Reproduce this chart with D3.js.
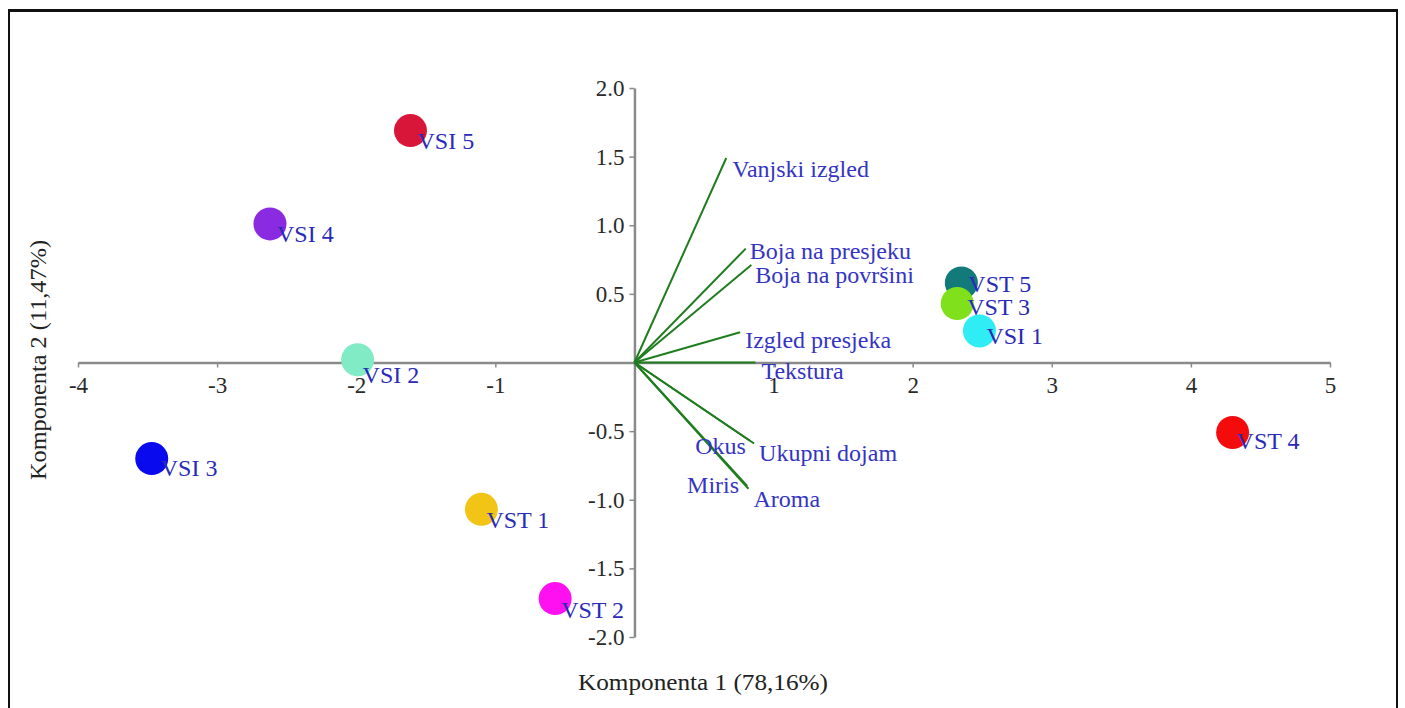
<!DOCTYPE html>
<html>
<head>
<meta charset="utf-8">
<script src="https://cdn.jsdelivr.net/npm/d3@7"></script>
<style>
  html, body { margin: 0; padding: 0; background: #fff; }
  svg { display: block; }
</style>
</head>
<body>
<svg id="chart" width="1405" height="708"></svg>
<script>
// ---------- data ----------
const sampleNames = ["VSI 5", "VSI 4", "VSI 2", "VSI 3", "VST 1", "VST 2", "VST 5", "VST 3", "VSI 1", "VST 4"];
const sampleX = [-1.61, -2.62, -1.99, -3.47, -1.10, -0.57, 2.35, 2.32, 2.48, 4.30];
const sampleY = [1.69, 1.01, 0.02, -0.70, -1.07, -1.72, 0.58, 0.43, 0.23, -0.51];
const sampleColors = ["#d8163a", "#8a2be2", "#80ebc4", "#0a0aee", "#f2c416", "#ff10f0", "#127a78", "#80e01c", "#30ecf4", "#f40c0c"];

const varNames = ["Vanjski izgled", "Boja na presjeku", "Boja na površini", "Izgled presjeka", "Tekstura", "Okus", "Ukupni dojam", "Miris", "Aroma"];
const varX = [0.66, 0.80, 0.84, 0.76, 0.87, 0.83, 0.86, 0.81, 0.82];
const varY = [1.49, 0.83, 0.71, 0.22, 0.00, -0.57, -0.59, -0.90, -0.92];

const xTicks = [-4, -3, -2, -1, 1, 2, 3, 4, 5];
const yTicks = [2.0, 1.5, 1.0, 0.5, -0.5, -1.0, -1.5, -2.0];
const xTitle = "Komponenta 1 (78,16%)";
const yTitle = "Komponenta 2 (11,47%)";

// label placement (style only)
const varLabelAnchor = ["start", "start", "start", "start", "start", "end", "start", "end", "start"];
const varLabelDx = [6, 4, 4, 5, 6, -4, 5, -8, 5];
const varLabelDy = [19, 10, 18, 16, 16, 13, 18, 7, 18];
const sampleLabelDx = [7, 7, 5, 9, 5, 6, 7, 10, 7, 4];
const sampleLabelDy = [18, 18, 23, 17, 19, 19, 9, 12, 13, 17];

// ---------- layout ----------
const svg = d3.select("#chart");
const x = d3.scaleLinear().domain([-4, 5]).range([78, 1330]);
const y = d3.scaleLinear().domain([-2, 2]).range([637, 88]);
const serif = "'Liberation Serif', 'Times New Roman', serif";
const hyphen = f => d => (d < 0 ? "-" : "") + f(Math.abs(d));

// frame
svg.append("rect").attr("x", 9).attr("y", 11).attr("width", 1388).attr("height", 720)
  .attr("fill", "none").attr("stroke", "#111").attr("stroke-width", 2);
svg.append("line").attr("x1", 8).attr("x2", 1398).attr("y1", 10.5).attr("y2", 10.5)
  .attr("stroke", "#111").attr("stroke-width", 3);

const axisColor = "#8a8a8a";

// x axis
const xAxis = d3.axisBottom(x).tickValues(xTicks).tickSize(5).tickSizeOuter(0).tickFormat(hyphen(d3.format("d")));
const gx = svg.append("g").attr("transform", `translate(0,${y(0)})`).call(xAxis);
gx.select(".domain").attr("stroke", axisColor).attr("stroke-width", 2.5);
gx.selectAll(".tick line").attr("stroke", axisColor).attr("stroke-width", 1.5);
gx.selectAll(".tick text").attr("fill", "#2a2a2a").attr("font-family", serif)
  .attr("font-size", 23).attr("y", 30).attr("dy", 0);

// y axis
const yAxis = d3.axisLeft(y).tickValues(yTicks).tickSize(5).tickSizeOuter(0).tickFormat(hyphen(d3.format(".1f")));
const gy = svg.append("g").attr("transform", `translate(${x(0)},0)`).call(yAxis);
gy.select(".domain").attr("stroke", axisColor).attr("stroke-width", 2.5);
gy.selectAll(".tick line").attr("stroke", axisColor).attr("stroke-width", 1.5);
gy.selectAll(".tick text").attr("fill", "#2a2a2a").attr("font-family", serif)
  .attr("font-size", 23).attr("x", -10).attr("dy", "0.33em");

// axis titles
svg.append("text").attr("x", 703).attr("y", 690).attr("text-anchor", "middle")
  .attr("font-family", serif).attr("font-size", 23).attr("fill", "#222")
  .attr("textLength", 250).attr("lengthAdjust", "spacingAndGlyphs").text(xTitle);
svg.append("text").attr("transform", "translate(46,360) rotate(-90)").attr("text-anchor", "middle")
  .attr("font-family", serif).attr("font-size", 23).attr("fill", "#222")
  .attr("textLength", 240).attr("lengthAdjust", "spacingAndGlyphs").text(yTitle);

// loading vectors
const vars = varNames.map((n, i) => ({ name: n, x: varX[i], y: varY[i], a: varLabelAnchor[i], dx: varLabelDx[i], dy: varLabelDy[i] }));
svg.append("g").selectAll("line").data(vars).join("line")
  .attr("x1", x(0)).attr("y1", y(0))
  .attr("x2", d => x(d.x)).attr("y2", d => y(d.y))
  .attr("stroke", "#1f7d1f").attr("stroke-width", 2);

svg.append("g").selectAll("text").data(vars).join("text")
  .attr("x", d => x(d.x) + d.dx)
  .attr("y", d => y(d.y) + d.dy)
  .attr("text-anchor", d => d.a)
  .attr("font-family", serif).attr("font-size", 24).attr("fill", "#3434c4")
  .text(d => d.name);

// samples
const samples = sampleNames.map((n, i) => ({ name: n, x: sampleX[i], y: sampleY[i], c: sampleColors[i], dx: sampleLabelDx[i], dy: sampleLabelDy[i] }));
svg.append("g").selectAll("circle").data(samples).join("circle")
  .attr("cx", d => x(d.x)).attr("cy", d => y(d.y)).attr("r", 16.5)
  .attr("fill", d => d.c);
svg.append("g").selectAll("text").data(samples).join("text")
  .attr("x", d => x(d.x) + d.dx).attr("y", d => y(d.y) + d.dy)
  .attr("font-family", serif).attr("font-size", 24).attr("fill", "#2a2ab8")
  .text(d => d.name);
</script>
</body>
</html>
